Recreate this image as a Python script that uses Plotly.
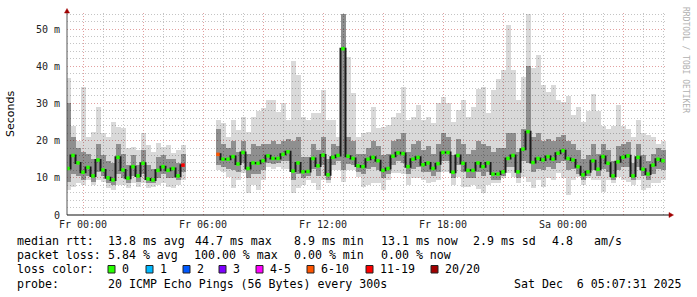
import plotly.graph_objects as go
import pandas as pd

# ---------------- data (15-minute slots, ms) ----------------
slot_start = "2025-12-04 23:15"
slot_count = 120
N = None
median = [12.5, 16, 14, 11.5, 12.8, 10.5, 14.8, 12.1, 10, 9.4,
          15.5, 12.1, 9.9, 13, 10.5, 13.9, 9.7, 9.4, 12, 13,
          12, 12.5, 10.5, 13.4, N, N, N, N, N, N,
          16.3, 15, 15, 15.7, 13.7, 16.8, 12.5, 14, 13.9, 14.6,
          15.9, 15.2, 15.2, 16.3, 17, 11.8, 14, 11.6, 11.7, 15.2,
          13.2, 16.1, 10.8, 15.5, 16, 44.7, 15.8, 15.2, 13.2, 13,
          15, 15.5, 14.6, 12, 12.5, 15.8, 16.7, 16.5, 13, 15,
          15.5, 13.5, 14, 12.5, 13.8, 16.8, 16.8, 11.5, 16, 13.9,
          12, 12, 14, 13, 14, 11, 11, 11.6, 15.2, 16,
          11.6, 17.7, 22.4, 14.1, 15.2, 14.8, 15.7, 15, 16.6, 17.3,
          15.2, 14.8, 13, 10.8, 11.6, 14.6, 12.3, 15.7, 13.9, 10.5,
          14.3, 15.5, 15.9, 10.5, 15.5, 12.3, 11, 13.4, 15, 14.6]
ping_max = [36.7, 24, 20, 34.4, 21, 22.4, 29, 22, 21, 25,
            23.7, 23.3, 17.9, 18.4, 17.5, 22, 18.8, 17, 19.3, 18.4,
            18.8, 16.6, 17.5, 18.8, N, N, N, N, N, N,
            25.5, 24.6, 21, 25.5, 22.8, 26.4, 22.4, 26.4, 28, 28.7,
            31, 30.9, 27.8, 30, 25.5, 41.4, 37.6, 26.4, 25.5, 27.3,
            27.3, 33.6, 25.5, 25.5, 21, 54, 42.5, 32.8, 21, 22,
            22.4, 29, 23.3, 23.7, 24.2, 26.4, 27.3, 34.5, 25.5, 26.4,
            29.5, 25.5, 26.4, 24.6, 30, 31.8, 30, 25, 28.2, 31,
            26.4, 29.1, 34, 34.4, 27.3, 33.5, 36.5, 39, 51, 39,
            31, 37, 54, 39.5, 43, 35, 33, 35, 31, 30.5,
            32, 27, 29, 25, 28, 32.5, 28, 24, 23, 24,
            29.5, 24, 23, 21, 25.5, 22, 21.5, 21, 19, 20]
ping_min = [6.7, 7.6, 8.5, 8, 9.4, 8, 9.4, 9, 7.2, 6.7,
            8, 8, 7.2, 8.5, 7.6, 8.5, 7.2, 7.6, 8, 8.5,
            7.6, 7.2, 8, 9.4, N, N, N, N, N, N,
            12.1, 11.6, 10.3, 7.2, 9.4, 11.2, 5.8, 8, 6.7, 9.4,
            13, 12.5, 13, 12.5, 12.5, 5.8, 7.2, 8, 9.4, 8.5,
            6.7, 9.4, 8.5, 12.1, 12.1, 9, 12.1, 12.1, 10.3, 7.5,
            8, 8.5, 8.5, 6.7, 9.4, 11.2, 11.2, 11, 8, 9.9,
            10, 9.4, 8.5, 9, 9.4, 11.6, 11.6, 8, 10.3, 7.6,
            7.6, 8, 7, 5.8, 8, 8.5, 8.5, 9.9, 11.2, 10.3,
            8.5, 10.3, 9, 7.2, 9.4, 7.6, 9.9, 9.4, 11.2, 10,
            5.4, 9.4, 10.3, 8, 9.9, 9.4, 9.4, 6.3, 9.4, 8.5,
            10.3, 9.5, 9, 8, 9.4, 6.7, 7.2, 8.5, 8.5, 9.4]
ping_q1 = [9, 11, 10.5, 9.5, 10.5, 9, 11.5, 10.5, 8.5, 8,
           11, 10, 8.5, 10.5, 9, 11, 8.5, 8.5, 10, 11,
           10, 10, 9.5, 11.5, N, N, N, N, N, N,
           13.5, 13, 12.5, 12, 11.5, 14, 10, 11, 11, 12,
           14, 13.8, 14, 14.5, 14.5, 9.5, 11, 10, 10.5, 12.5,
           10.5, 13.5, 9.5, 13.5, 14.5, 12, 13.8, 13.5, 11.5, 11,
           12.5, 13, 12, 10, 11, 13.5, 14.5, 14, 11, 12.5,
           13, 11.5, 11.5, 10.5, 11.5, 14.5, 14.5, 10, 13.5, 11.5,
           10, 10, 11.5, 10.5, 11.5, 9.5, 9.5, 10.5, 13, 13,
           10, 14.5, 14, 11.5, 12.5, 12, 13, 12.5, 14, 14.5,
           12, 12.5, 11, 9.5, 10.5, 12, 10.5, 12.5, 11.5, 9.5,
           12, 13, 13, 9.5, 13, 10.5, 9.5, 11, 12.5, 12]
ping_q3 = [30, 21, 18, 17, 16.5, 15, 19, 16, 14.5, 14,
           19, 16.5, 13.5, 16, 13.5, 17.5, 13.5, 12.5, 15.5, 16,
           15, 15, 14, 16.5, N, N, N, N, N, N,
           23, 19, 18, 20, 17, 20, 16.5, 19, 18.5, 19,
           19, 20, 19, 20, 20.5, 20, 21, 15.5, 15.5, 19,
           17.5, 21, 15, 19, 18.5, 54, 21, 20, 16.5, 16.5,
           18, 20, 18.5, 16, 16.5, 20, 20.5, 22, 17, 19,
           20, 17.5, 18.5, 16.5, 19, 22, 21, 16, 20.5, 19,
           16.5, 17.5, 20, 19, 18.5, 17, 18, 18, 22, 22,
           17, 23, 40, 21, 22, 20, 20.5, 20, 21, 21.5,
           20, 19, 17.5, 15, 16, 19, 16.5, 19, 17.5, 14.5,
           18.5, 19, 19.5, 14, 19, 16, 14.5, 16.5, 18, 17.5]
# pings lost per slot (of 20)
loss = [0] * 23 + [12] + [20] * 6 + [8] + [0] * 89

loss_labels = ["0", "1", "2", "3", "4-5", "6-10", "11-19", "20/20"]
loss_colors = ["#26ff00", "#00b8ff", "#0059ff", "#7e00ff", "#ff00ff", "#ff5500", "#ff0000", "#a10000"]
loss_bins = [0, 1, 2, 3, 5, 10, 19, 20]

x_tick_labels = ["Fr 00:00", "", "Fr 06:00", "", "Fr 12:00", "", "Fr 18:00", "", "Sa 00:00", ""]
y_tick_values = [0, 10, 20, 30, 40, 50]
y_tick_labels = ["0", "10 m", "20 m", "30 m", "40 m", "50 m"]

stats_rtt = ["median rtt:", "13.8 ms avg", "44.7 ms max", "8.9 ms min", "13.1 ms now", "2.9 ms sd", "4.8", "am/s"]
stats_loss = ["packet loss:", "5.84 % avg", "100.00 % max", "0.00 % min", "0.00 % now"]
probe_text = ["probe:", "20 ICMP Echo Pings (56 Bytes) every 300s", "Sat Dec  6 05:07:31 2025"]

# ---------------- build ----------------
times = pd.date_range(slot_start, periods=slot_count, freq="15min")
slot_ms = 15 * 60 * 1000


def loss_color(n):
    for b, c in zip(loss_bins, loss_colors):
        if n <= b:
            return c
    return loss_colors[-1]


def span(a, b):
    return [None if (u is None or v is None) else v - u for u, v in zip(a, b)]


fig = go.Figure()
fig.add_trace(go.Bar(x=times, y=span(ping_min, ping_max), base=ping_min, width=slot_ms,
                     marker=dict(color="rgba(0,0,0,0.15)", line_width=0)))
fig.add_trace(go.Bar(x=times, y=span(ping_q1, ping_q3), base=ping_q1, width=slot_ms,
                     marker=dict(color="rgba(0,0,0,0.34)", line_width=0)))
fig.add_trace(go.Scatter(x=times, y=median, mode="lines", connectgaps=False,
                         line=dict(color="#1a1a1a", width=2, shape="hvh")))
fig.add_trace(go.Scatter(x=times, y=median, mode="markers",
                         marker=dict(symbol="square", size=3.5,
                                     color=[loss_color(n) for n in loss], line_width=0)))

W, H = 697, 297
L, R, T, B = 67, 30, 13, 82
pw, ph = W - L - R, H - T - B


def px(x):
    return (x - L) / pw


def py(y):
    return (H - B - y) / ph


mono = "DejaVu Sans Mono"
grid_minor = "#c4c4c4"
grid_major = "#e2a0a0"

fig.update_layout(
    width=W, height=H, margin=dict(l=L, r=R, t=T, b=B),
    paper_bgcolor="white", plot_bgcolor="white",
    barmode="overlay", bargap=0, showlegend=False,
    font=dict(family=mono, size=10, color="#222"),
    xaxis=dict(
        type="date", range=["2025-12-04 23:12", "2025-12-06 05:12"],
        tickmode="array",
        tickvals=pd.date_range("2025-12-05 00:00", periods=len(x_tick_labels), freq="3h"),
        ticktext=x_tick_labels,
        showgrid=True, gridcolor=grid_major, griddash="1px,2px", gridwidth=1,
        minor=dict(tickmode="linear", tick0="2025-12-05 00:00", dtick=3600000,
                   showgrid=True, gridcolor=grid_minor, griddash="1px,2px", gridwidth=1),
        showline=False, zeroline=False, ticks="", ticklabelstandoff=2,
        tickfont=dict(family=mono, size=10, color="#222"),
    ),
    yaxis=dict(
        range=[0, 54.3], tickmode="array", tickvals=y_tick_values, ticktext=y_tick_labels,
        showgrid=True, gridcolor=grid_major, griddash="1px,2px", gridwidth=1,
        minor=dict(tickmode="linear", tick0=0, dtick=2,
                   showgrid=True, gridcolor=grid_minor, griddash="1px,2px", gridwidth=1),
        showline=False, zeroline=False, ticks="", ticklabelstandoff=6,
        tickfont=dict(family=mono, size=10, color="#222"),
    ),
)

shapes = []
# axes
shapes.append(dict(type="line", xref="paper", yref="paper", x0=px(67), x1=px(67), y0=py(215), y1=py(10),
                   line=dict(color="#555", width=1)))
shapes.append(dict(type="line", xref="paper", yref="paper", x0=px(67), x1=px(670), y0=py(215), y1=py(215),
                   line=dict(color="#111", width=1)))
# arrows
shapes.append(dict(type="path", xref="paper", yref="paper",
                   path=f"M {px(64.5)},{py(13)} L {px(69.5)},{py(13)} L {px(67)},{py(8.5)} Z",
                   fillcolor="#a00000", line=dict(color="#a00000", width=0.5)))
shapes.append(dict(type="path", xref="paper", yref="paper",
                   path=f"M {px(669)},{py(212.5)} L {px(669)},{py(217.5)} L {px(673.5)},{py(215)} Z",
                   fillcolor="#a00000", line=dict(color="#a00000", width=0.5)))

annotations = []


def text(x, y, s, size=11.6, color="#000", family=mono, angle=0, xanchor="left"):
    annotations.append(dict(x=px(x), y=py(y), xref="paper", yref="paper", text=s, showarrow=False,
                            xanchor=xanchor, yanchor="middle", textangle=angle,
                            font=dict(family=family, size=size, color=color)))


rtt_x = [16, 107, 194, 293, 380, 472, 551, 593]
for xx, s in zip(rtt_x, stats_rtt):
    text(xx - 1, 241, s)
loss_x = [16, 107, 193, 293, 380]
for xx, s in zip(loss_x, stats_loss):
    text(xx - 1, 255, s)
text(15, 269, "loss color:")
sq_x = [108, 146, 183, 219, 256, 307, 366, 431]
for xx, c, lab in zip(sq_x, loss_colors, loss_labels):
    shapes.append(dict(type="rect", xref="paper", yref="paper", x0=px(xx), x1=px(xx + 7),
                       y0=py(273), y1=py(265.5), fillcolor=c, line=dict(color="#222", width=1)))
    text(xx + 12, 269, lab)
probe_x = [16, 107, 513]
for xx, s in zip(probe_x, probe_text):
    text(xx - 1, 284, s)

text(10, 114, "Seconds", size=11, family="DejaVu Sans", angle=-90, xanchor="center")
text(686, 60, "RRDTOOL / TOBI OETIKER", size=8, color="#b0b0b0", angle=90, xanchor="center")

fig.update_layout(shapes=shapes, annotations=annotations)
fig.write_html("out.html")
